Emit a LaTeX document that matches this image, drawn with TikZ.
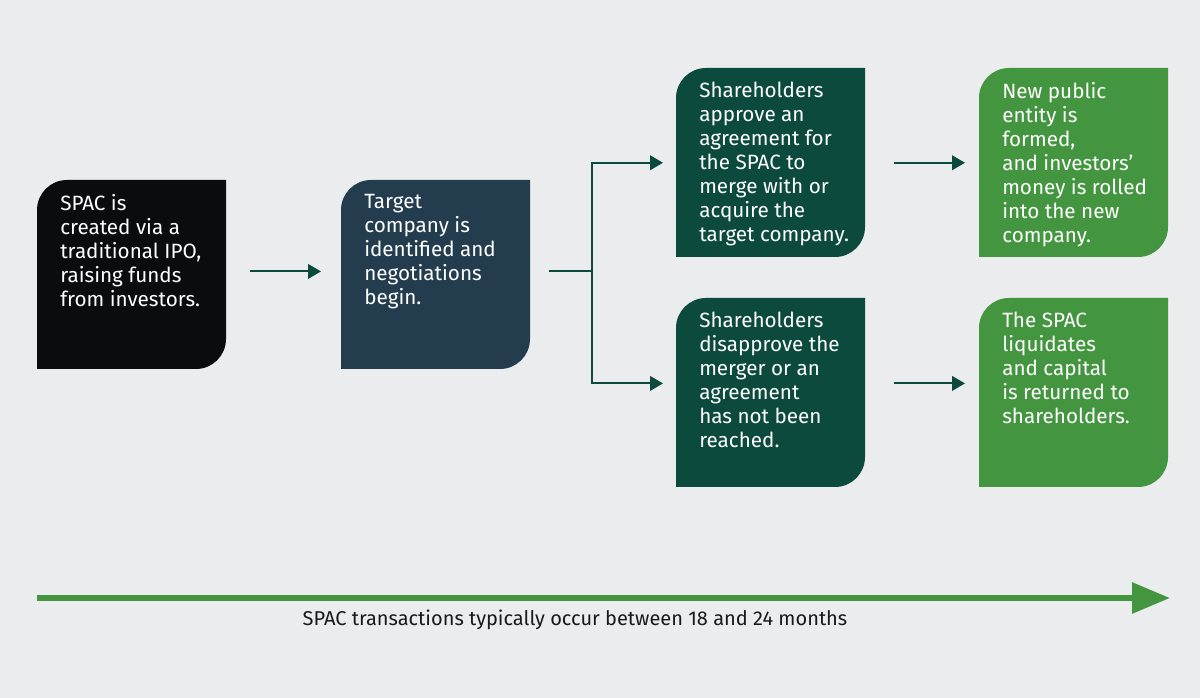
\documentclass[tikz,border=0pt]{standalone}
\usepackage{fontspec}
\setmainfont{Fira Sans}
\usetikzlibrary{arrows.meta, positioning, calc}

\definecolor{bggray}{HTML}{EBECEE}
\definecolor{spacblack}{HTML}{0B0C0D}
\definecolor{slate}{HTML}{233D4E}
\definecolor{darkgreen}{HTML}{0B4A3D}
\definecolor{leafgreen}{HTML}{43963F}

\tikzset{
  leaf/.style={minimum width=141.75pt, minimum height=141.75pt, inner sep=0pt, anchor=north west},
  boxtext/.style={text=white, align=left, inner sep=0pt, anchor=north west, font=\fontsize{15.5}{18}\selectfont},
  flow/.style={draw=darkgreen, line width=1.5pt, -{Triangle[length=9.75pt,width=11pt]}},
  timetext/.style={text=black!90, inner sep=0pt, anchor=base, font=\fontsize{15}{17}\selectfont},
}

% leaf shaped box: name, left, top, colour, text
\newcommand{\leafbox}[5]{%
  \fill[#4] (#2,#3+189) -- (#2,#3+30) arc[start angle=180,end angle=270,radius=30]
    -- (#2+189,#3) -- (#2+189,#3+159) arc[start angle=0,end angle=90,radius=30] -- cycle;
  \node[leaf] (#1) at (#2,#3) {};
  \node[boxtext] (#1-text) at (#2+23,#3+14) {#5};
}

\begin{document}
\begin{tikzpicture}[x=0.75pt, y=-0.75pt]
\fill[bggray] (0,0) rectangle (1200,698);
\useasboundingbox (0,0) rectangle (1200,698);

% the six steps
\leafbox{spac}{37}{180}{spacblack}{SPAC is\\created via a\\traditional IPO,\\raising funds\\from investors.}
\leafbox{target}{341}{180}{slate}{Target\\company is\\identified and\\negotiations\\begin.}
\leafbox{approve}{676}{68}{darkgreen}{Shareholders\\approve an\\agreement for\\the SPAC to\\merge with or\\acquire the\\target company.}
\leafbox{disapprove}{676}{298}{darkgreen}{Shareholders\\disapprove the\\merger or an\\agreement\\has not been\\reached.}
\leafbox{newentity}{979}{68}{leafgreen}{New public\\entity is\\formed,\\and investors’\\money is rolled\\into the new\\company.}
\leafbox{liquidate}{979}{298}{leafgreen}{The SPAC\\liquidates\\and capital\\is returned to\\shareholders.}

% connectors
\draw[flow, shorten <=17.25pt, shorten >=15pt] ([yshift=2.5pt]spac.east) -- ([yshift=2.5pt]target.east -| target.west);
\draw[darkgreen, line width=1.5pt, shorten <=13.5pt] ([yshift=2.5pt]target.east) -- ++(61,0) coordinate (split);
\draw[flow, shorten >=9.75pt] (split) |- (approve.west);
\draw[flow, shorten >=9.75pt] (split) |- ([yshift=7pt]disapprove.west);
\draw[flow, shorten <=21pt, shorten >=10.5pt] (approve.east) -- (newentity.west);
\draw[flow, shorten <=21pt, shorten >=10.5pt] ([yshift=7pt]disapprove.east) -- ([yshift=7pt]liquidate.west);

% time line
\coordinate (tstart) at (37,598);
\coordinate (tend) at (1170,598);
\draw[leafgreen, line width=4.5pt, -{Triangle[length=28.5pt,width=22.5pt]}] (tstart) -- (tend);
\node[timetext] (timelabel) at (575,625) {SPAC transactions typically occur between 18 and 24 months};
\end{tikzpicture}
\end{document}
